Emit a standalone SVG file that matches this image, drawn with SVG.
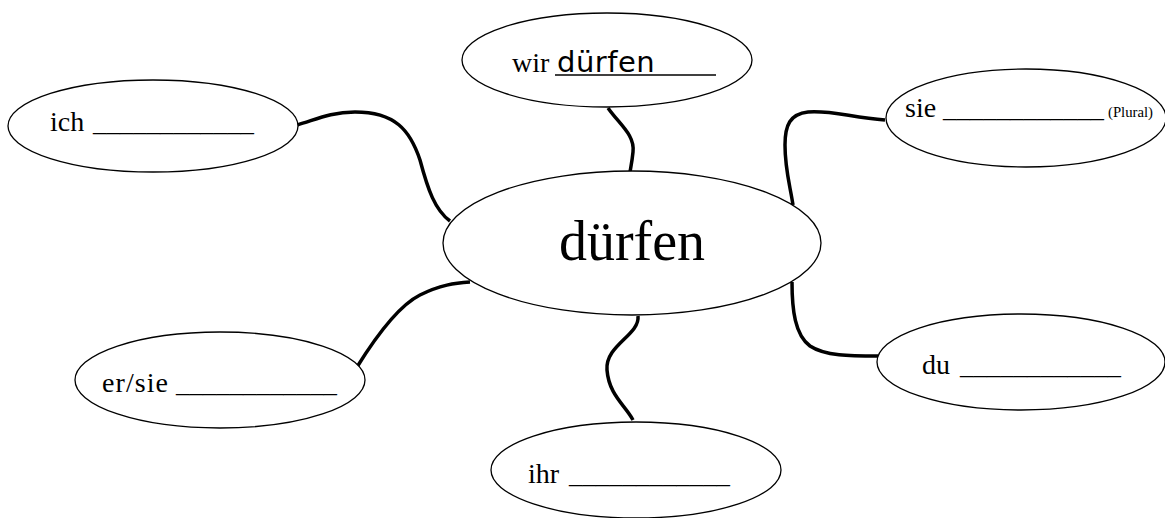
<svg xmlns="http://www.w3.org/2000/svg" width="1165" height="518" viewBox="0 0 1165 518">
<style>
.node{fill:#fff;stroke:#000;stroke-width:1.3}
.conn{fill:none;stroke:#000;stroke-width:3.5;stroke-linecap:butt}
.t{font-family:"Liberation Serif","Times New Roman",serif;font-size:28px;fill:#000}
.hand{font-family:"DejaVu Sans","Liberation Sans",sans-serif;font-size:29px;fill:#000;letter-spacing:0.5px}
.big{font-family:"Liberation Serif","Times New Roman",serif;font-size:56px;fill:#000}
.small{font-family:"Liberation Serif","Times New Roman",serif;font-size:14px;fill:#000}
.ul{stroke:#000;stroke-width:1.4}
</style>
<rect width="1165" height="518" fill="#fff"/>
<g id="connectors">
<path class="conn" d="M297,125 C315,120 330,112 355,112 C395,112 410,130 420,160 C428,190 435,210 450,221"/>
<path class="conn" d="M608,108 C620,125 635,135 633,152 C632,162 631,166 630,172"/>
<path class="conn" d="M885,120 C850,117 830,110 808,112 C790,114 785,125 785,145 C785,170 790,185 793,205"/>
<path class="conn" d="M357,367 C380,330 400,305 420,295 C440,285 455,283 470,282"/>
<path class="conn" d="M638,316 C640,335 605,345 607,370 C609,395 625,405 633,420"/>
<path class="conn" d="M792,282 C792,310 795,335 810,346 C825,356 850,356 878,356"/>
</g>
<g id="center">
<ellipse class="node" cx="632" cy="243" rx="189" ry="72"/>
<text class="big" x="632" y="260" text-anchor="middle">dürfen</text>
</g>
<g id="wir">
<ellipse class="node" cx="607" cy="60" rx="145" ry="47"/>
<text class="t" x="512" y="72">wir</text>
<line class="ul" x1="555" y1="75" x2="716" y2="75"/>
<text class="hand" x="557" y="72">dürfen</text>
</g>
<g id="ich">
<ellipse class="node" cx="153" cy="126" rx="145" ry="46"/>
<text class="t" x="50" y="131">ich</text>
<text class="t" x="93" y="131" textLength="161" lengthAdjust="spacingAndGlyphs">____________</text>
</g>
<g id="sie">
<ellipse class="node" cx="1026" cy="118" rx="140" ry="49"/>
<text class="t" x="905" y="117">sie</text>
<text class="t" x="943" y="117" textLength="161" lengthAdjust="spacingAndGlyphs">____________</text>
<text class="small" x="1108" y="117" textLength="45" lengthAdjust="spacingAndGlyphs">(Plural)</text>
</g>
<g id="ersie">
<ellipse class="node" cx="220" cy="380" rx="145" ry="48"/>
<text class="t" x="102" y="392" textLength="66" lengthAdjust="spacing">er/sie</text>
<text class="t" x="176" y="392" textLength="161" lengthAdjust="spacingAndGlyphs">____________</text>
</g>
<g id="ihr">
<ellipse class="node" cx="636" cy="470" rx="145" ry="48"/>
<text class="t" x="528" y="483">ihr</text>
<text class="t" x="569" y="483" textLength="161" lengthAdjust="spacingAndGlyphs">____________</text>
</g>
<g id="du">
<ellipse class="node" cx="1021" cy="362" rx="144" ry="48"/>
<text class="t" x="922" y="374">du</text>
<text class="t" x="960" y="374" textLength="161" lengthAdjust="spacingAndGlyphs">____________</text>
</g>
</svg>
